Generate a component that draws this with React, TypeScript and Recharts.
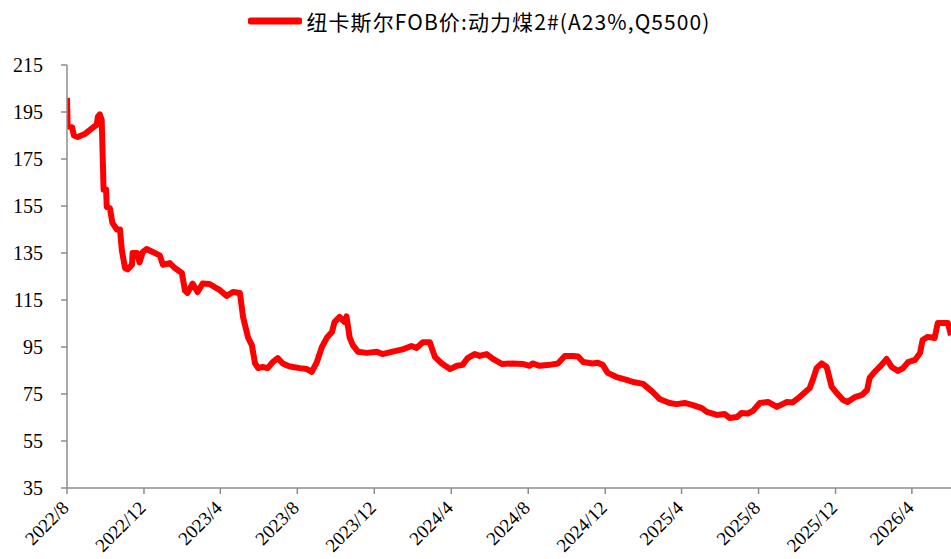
import React from "react";
import { LineChart, Line, XAxis, YAxis, Legend } from "recharts";

// 纽卡斯尔FOB价:动力煤2#(A23%,Q5500), USD/t
const dates = [
  "2022-08-01", "2022-08-02", "2022-08-06", "2022-08-09", "2022-08-12", "2022-08-18", "2022-08-29",
  "2022-09-06", "2022-09-14", "2022-09-17", "2022-09-19", "2022-09-22", "2022-09-25", "2022-09-28",
  "2022-10-02", "2022-10-03", "2022-10-08", "2022-10-12", "2022-10-19", "2022-10-24", "2022-10-27",
  "2022-11-01", "2022-11-05", "2022-11-12", "2022-11-13", "2022-11-20", "2022-11-24", "2022-11-29",
  "2022-12-05", "2022-12-15", "2022-12-26", "2022-12-31", "2023-01-11", "2023-01-19", "2023-01-30",
  "2023-02-04", "2023-02-08", "2023-02-16", "2023-02-24", "2023-03-04", "2023-03-15", "2023-03-26",
  "2023-03-31", "2023-04-11", "2023-04-21", "2023-05-02", "2023-05-07", "2023-05-15", "2023-05-21",
  "2023-05-26", "2023-05-31", "2023-06-07", "2023-06-15", "2023-06-23", "2023-07-01", "2023-07-09",
  "2023-07-17", "2023-07-25", "2023-08-05", "2023-08-16", "2023-08-24", "2023-09-01", "2023-09-09",
  "2023-09-17", "2023-09-25", "2023-09-29", "2023-10-07", "2023-10-15", "2023-10-18", "2023-10-23",
  "2023-10-28", "2023-11-05", "2023-11-19", "2023-12-05", "2023-12-14", "2023-12-30", "2024-01-15",
  "2024-01-29", "2024-02-06", "2024-02-16", "2024-02-27", "2024-03-06", "2024-03-17", "2024-03-30",
  "2024-04-10", "2024-04-19", "2024-04-27", "2024-05-08", "2024-05-16", "2024-05-27", "2024-06-06",
  "2024-06-20", "2024-07-07", "2024-07-23", "2024-08-03", "2024-08-08", "2024-08-19", "2024-09-04",
  "2024-09-17", "2024-09-28", "2024-10-11", "2024-10-19", "2024-10-27", "2024-11-11", "2024-11-19",
  "2024-11-27", "2024-12-05", "2024-12-19", "2025-01-04", "2025-01-14", "2025-01-30", "2025-02-14",
  "2025-02-25", "2025-03-13", "2025-03-24", "2025-04-06", "2025-04-19", "2025-05-03", "2025-05-11",
  "2025-05-27", "2025-06-08", "2025-06-16", "2025-06-28", "2025-07-05", "2025-07-15", "2025-07-23",
  "2025-08-03", "2025-08-16", "2025-08-30", "2025-09-15", "2025-09-24", "2025-10-05", "2025-10-21",
  "2025-10-26", "2025-11-01", "2025-11-09", "2025-11-17", "2025-11-25", "2025-12-03", "2025-12-13",
  "2025-12-20", "2026-01-01", "2026-01-12", "2026-01-20", "2026-01-24", "2026-02-01", "2026-02-09",
  "2026-02-20", "2026-02-28", "2026-03-10", "2026-03-18", "2026-03-26", "2026-04-06", "2026-04-14",
  "2026-04-18", "2026-04-26", "2026-05-07", "2026-05-12", "2026-05-28", "2026-06-02",
];

const prices = [
  201, 189, 188.6, 188.5, 185, 184.4, 185.6,
  187.3, 189, 189.5, 193, 194, 191.6, 162,
  162, 154.6, 154, 147.8, 145, 145, 136,
  128.6, 128, 130, 135, 135, 131, 135.4,
  136.7, 135.4, 134, 130, 130.7, 128.6, 126.5,
  119, 118, 122, 118.4, 122, 121.8, 120,
  119.3, 116.7, 118.4, 118, 107.8, 99, 95.8,
  88, 86, 86.5, 86, 88.6, 90.3, 88,
  87, 86.5, 86, 85.6, 84.4, 88.6, 95,
  99, 101.4, 105.6, 107.8, 105.6, 108, 99,
  95.8, 93, 92.5, 93, 92, 93, 94,
  95.4, 94.6, 97, 97, 90.8, 88, 85.6,
  87, 87.4, 90.3, 92, 91.2, 92, 89.9,
  87.8, 88, 87.8, 87, 88, 87, 87.4,
  88, 91.2, 91.2, 91, 88.6, 88, 88.3,
  87.4, 84, 82.2, 81, 80.1, 79.3, 75.9,
  72.9, 71.2, 70.7, 71.2, 70.3, 69, 67.4,
  66.1, 66.5, 64.8, 65.2, 66.9, 66.7, 67.8,
  71.2, 71.6, 69.5, 71.6, 71.4, 73.7, 77.5,
  81, 86, 88, 86.5, 78, 75.4, 72.4,
  71.6, 73.7, 74.6, 76.7, 81.8, 84.4, 86.5,
  89.9, 86.5, 84.8, 86, 88.6, 89.5, 92.5,
  98, 99.3, 98.8, 105.2, 105.2, 100,
];

const yTicks = [35, 55, 75, 95, 115, 135, 155, 175, 195, 215];

const xTickLabels = [
  "2022/8", "2022/12", "2023/4", "2023/8", "2023/12", "2024/4",
  "2024/8", "2024/12", "2025/4", "2025/8", "2025/12", "2026/4",
];

const SERIES_NAME = "纽卡斯尔FOB价:动力煤2#(A23%,Q5500)";

const toTs = (s: string) => Date.parse(s + "T00:00:00Z");
const data = dates.map((d, i) => ({ t: toTs(d), v: prices[i] }));
const xTicks = xTickLabels.map((l) => {
  const [y, m] = l.split("/");
  return Date.UTC(Number(y), Number(m) - 1, 1);
});

const AXIS_COLOR = "#8c8c8c";
const TICK_FONT = '"Liberation Serif", "Times New Roman", serif';

function XTick(props: any) {
  const { x = 0, y = 0, payload } = props;
  const idx = xTicks.indexOf(payload?.value);
  const label = idx >= 0 ? xTickLabels[idx] : "";
  return (
    <g transform={`translate(${x + 3},${y + 15})`}>
      <text textAnchor="end" transform="rotate(-45)" fill="#000" style={{ fontSize: 19, fontFamily: TICK_FONT }}>
        {label}
      </text>
    </g>
  );
}

function LegendBox() {
  return (
    <div style={{ height: 57, display: "flex", justifyContent: "center", alignItems: "flex-start" }}>
      <div style={{ display: "flex", alignItems: "center", height: 26, marginLeft: 8 }}>
        <svg width={54} height={10}>
          <line x1={3} y1={5} x2={51} y2={5} stroke="#ff0000" strokeWidth={7} strokeLinecap="round" />
        </svg>
        <span
          style={{
            marginLeft: 4,
            fontFamily: '"Noto Sans CJK SC", sans-serif',
            fontSize: 21,
            letterSpacing: 1.1,
            color: "#000",
            lineHeight: "26px",
          }}
        >
          {SERIES_NAME}
        </span>
      </div>
    </div>
  );
}

export default function App() {
  return (
    <div style={{ position: "absolute", left: 0, top: 0, width: 951, height: 559, background: "#fff" }}>
      <LineChart width={951} height={559} data={data} margin={{ top: 8, right: 0, left: 0, bottom: 0 }}>
        <Legend verticalAlign="top" align="center" height={57} content={() => <LegendBox />} />
        <XAxis
          dataKey="t"
          type="number"
          scale="time"
          domain={[toTs("2022-08-01"), toTs("2026-06-02")]}
          ticks={xTicks}
          interval={0}
          height={71}
          tickSize={6}
          tickMargin={0}
          axisLine={{ stroke: AXIS_COLOR, strokeWidth: 1.5 }}
          tickLine={{ stroke: AXIS_COLOR, strokeWidth: 1.5 }}
          tick={<XTick />}
          allowDataOverflow
        />
        <YAxis
          type="number"
          domain={[35, 215]}
          ticks={yTicks}
          interval={0}
          width={67}
          tickSize={6}
          tickMargin={18}
          axisLine={{ stroke: AXIS_COLOR, strokeWidth: 1.5 }}
          tickLine={{ stroke: AXIS_COLOR, strokeWidth: 1.5 }}
          tick={{ fontSize: 20, fill: "#000", fontFamily: TICK_FONT }}
        />
        <Line
          type="linear"
          dataKey="v"
          name={SERIES_NAME}
          stroke="#ff0000"
          strokeWidth={6}
          strokeLinejoin="round"
          dot={false}
          activeDot={false}
          isAnimationActive={false}
        />
      </LineChart>
    </div>
  );
}
